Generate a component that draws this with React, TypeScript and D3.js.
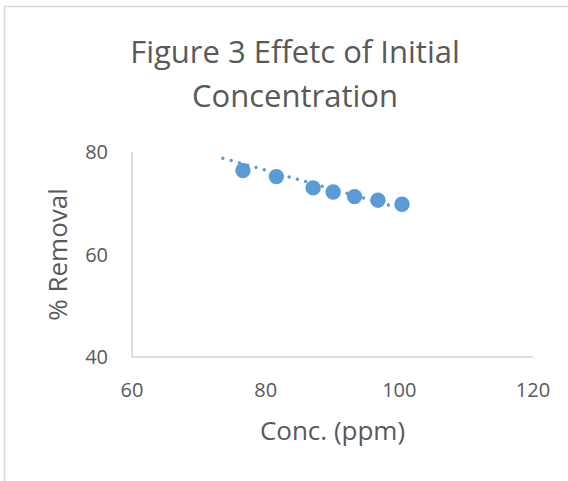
import React from "react";
import * as d3 from "d3";

// values
const concPpm = [76.6, 81.6, 87.1, 90.1, 93.3, 96.8, 100.4];
const removalPct = [76.4, 75.2, 73.0, 72.2, 71.3, 70.6, 69.8];

// dotted linear trendline, two end points
const trendX = [73.6, 100.4];
const trendY = [78.8, 68.9];

const xTicks = [60, 80, 100, 120];
const yTicks = [40, 60, 80];

const titleLines = ["Figure 3 Effetc of Initial", "Concentration"];
const xTitle = "Conc. (ppm)";
const yTitle = "% Removal";

const W = 568;
const H = 481;
const FONT = "'Open Sans', 'Noto Sans', sans-serif";
const TEXT = "#595959";
const BLUE = "#5b9bd5";

export default function App() {
  const x = d3.scaleLinear().domain([60, 120]).range([132, 533]);
  const y = d3.scaleLinear().domain([40, 80]).range([357, 152]);

  const trend = d3
    .line<number>()
    .x((d) => x(d))
    .y((d, i) => y(trendY[i]));

  return (
    <svg
      width={W}
      height={H}
      style={{ position: "absolute", left: 0, top: 0, background: "#fff" }}
      fontFamily={FONT}
    >
      <rect x={4.5} y={6.5} width={700} height={600} fill="#fff" stroke="#d9d9d9" strokeWidth={1.5} />

      {titleLines.map((t, i) => (
        <text key={t} x={295} y={63 + i * 44} textAnchor="middle" fontSize={31} fill={TEXT}>
          {t}
        </text>
      ))}

      {/* axes */}
      <line x1={x(60)} x2={x(60)} y1={y(80)} y2={y(40)} stroke="#bfbfbf" strokeWidth={1} />
      <line x1={x(60)} x2={x(120)} y1={y(40)} y2={y(40)} stroke="#bfbfbf" strokeWidth={1} />

      {yTicks.map((t) => (
        <text key={t} x={108} y={y(t) + 7} textAnchor="end" fontSize={20} fill={TEXT}>
          {t}
        </text>
      ))}
      {xTicks.map((t) => (
        <text key={t} x={x(t)} y={397} textAnchor="middle" fontSize={20} fill={TEXT}>
          {t}
        </text>
      ))}

      <text x={x(90)} y={440} textAnchor="middle" fontSize={26} fill={TEXT}>
        {xTitle}
      </text>
      <text
        transform={`translate(67,${y(60)}) rotate(-90)`}
        textAnchor="middle"
        fontSize={26}
        fill={TEXT}
      >
        {yTitle}
      </text>

      <path
        d={trend(trendX) || ""}
        fill="none"
        stroke={BLUE}
        strokeWidth={3.5}
        strokeLinecap="round"
        strokeDasharray="0 8.6"
      />

      {concPpm.map((c, i) => (
        <circle key={i} cx={x(c)} cy={y(removalPct[i])} r={7.7} fill={BLUE} />
      ))}
    </svg>
  );
}
